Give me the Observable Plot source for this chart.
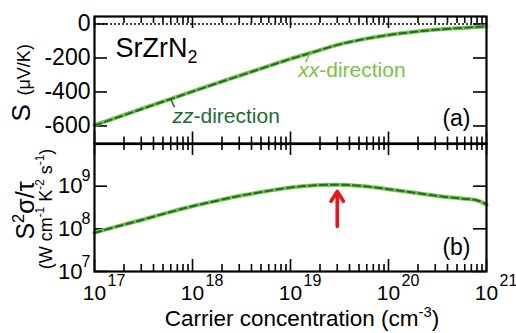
<!DOCTYPE html>
<html><head><meta charset="utf-8">
<script src="https://cdn.jsdelivr.net/npm/d3@7"></script>
<script src="https://cdn.jsdelivr.net/npm/@observablehq/plot@0.6"></script>
<style>
body{margin:0;background:#fff;}
#chart{position:relative;width:516px;height:333px;overflow:hidden;background:#fff;}
#chart svg{position:absolute;left:0;top:0;}
</style></head><body><div id="chart"></div>
<script>
// ---- data ----
const carrier = [1e17, 1.78e17, 3.16e17, 5.62e17, 1e18, 1.78e18, 3.16e18, 5.62e18, 1e19, 1.78e19, 3.16e19, 5.62e19, 1e20, 1.78e20, 3.16e20, 5.62e20, 7.94e20, 1e21];
const seebeckXX = [-595, -545, -495, -446, -397, -348, -300, -252, -205, -163, -120, -89, -65, -47, -33, -23, -18, -15];
const seebeckZZ = [-597, -547, -497, -447, -398, -349, -301, -253, -206, -163, -120, -89, -65, -47, -33, -23, -18, -14];
const pfXX = [8.13e7, 1.175e8, 1.66e8, 2.40e8, 3.39e8, 4.57e8, 6.03e8, 7.59e8, 9.33e8, 1.047e9, 1.084e9, 1.0e9, 8.51e8, 7.08e8, 5.89e8, 5.13e8, 4.68e8, 3.63e8];
const pfZZ = [8.0e7, 1.17e8, 1.66e8, 2.40e8, 3.39e8, 4.57e8, 6.03e8, 7.59e8, 9.33e8, 1.045e9, 1.08e9, 1.0e9, 8.5e8, 7.1e8, 5.9e8, 5.1e8, 4.7e8, 3.8e8];

const xMajor = [1e17, 1e18, 1e19, 1e20, 1e21];
const xExponents = ["17", "18", "19", "20", "21"];
const minorMantissas = [2, 3, 4, 5, 6, 7, 8, 9];
const yTicksA = [0, -200, -400, -600];
const yLabelsA = ["0", "-200", "-400", "-600"];
const yTicksB = [1e7, 1e8, 1e9];
const yExponentsB = ["7", "8", "9"];

// annotations
const zzLabel = {x: 6.25e17, y: -585, text: "*{zz}-direction"};
const zzLeader = {x1: 5.97e17, y1: -440, x2: 6.55e17, y2: -489};
const xxLabel = {x: 1.2e19, y: -309, text: "*{xx}-direction"};
const xxLeader = {x1: 1.57e19, y1: -172, x2: 1.43e19, y2: -225};
const peakArrow = {x: 3.0e19, y1: 1.13e8, y2: 7.55e8};

// ---- layout ----
const W = 516, H = 333, L = 94, R = 486;
const A_top = 16, A_bot = 143.5, B_top = 143, B_bot = 271;
const hA = A_bot - A_top, hB = B_bot - B_top, fw = R - L;
const fontFamily = '"Liberation Sans", Arial, Helvetica, sans-serif';
const light = "#7cc244", dark = "#1d6b35", red = "#e8141e";

const xMinor = xMajor.slice(0, -1).flatMap(p => minorMantissas.map(m => m * p));
const rowsS = carrier.map((n, i) => ({n, xx: seebeckXX[i], zz: seebeckZZ[i]}));
const rowsP = carrier.map((n, i) => ({n, xx: pfXX[i], zz: pfZZ[i]}));

function xTickMarks(h) {
  const st = {stroke: "black", strokeWidth: 1.6};
  return [
    Plot.tickX(xMinor, {...st, insetBottom: h - 7}),
    Plot.tickX(xMajor, {...st, insetBottom: h - 12}),
    Plot.tickX(xMinor, {...st, insetTop: h - 7}),
    Plot.tickX(xMajor, {...st, insetTop: h - 12})
  ];
}
function yTickMarks(ticks) {
  const st = {stroke: "black", strokeWidth: 1.6};
  return [
    Plot.tickY(ticks, {...st, insetRight: fw - 13}),
    Plot.tickY(ticks, {...st, insetLeft: fw - 13})
  ];
}
const style = {fontFamily, background: "transparent", overflow: "visible", color: "black"};

const plotA = Plot.plot({
  width: W, height: H,
  marginLeft: L, marginRight: W - R, marginTop: A_top, marginBottom: H - A_bot,
  x: {type: "log", domain: [1e17, 1e21], axis: null},
  y: {domain: [-706, 44], axis: null},
  style,
  marks: [
    Plot.ruleY([0], {stroke: "black", strokeWidth: 1.4, strokeDasharray: "2,2"}),
    ...xTickMarks(hA),
    ...yTickMarks(yTicksA),
    Plot.line(rowsS, {x: "n", y: "xx", stroke: light, strokeWidth: 4, curve: "catmull-rom"}),
    Plot.line(rowsS, {x: "n", y: "zz", stroke: dark, strokeWidth: 2, strokeDasharray: "7,4", curve: "catmull-rom"}),
    Plot.link([zzLeader], {x1: "x1", y1: "y1", x2: "x2", y2: "y2", stroke: dark, strokeWidth: 1.6}),
    Plot.link([xxLeader], {x1: "x1", y1: "y1", x2: "x2", y2: "y2", stroke: light, strokeWidth: 1.6}),
    Plot.text([zzLabel], {x: "x", y: "y", text: "text", fill: dark, fontSize: 21, textAnchor: "start", lineAnchor: "bottom"}),
    Plot.text([xxLabel], {x: "x", y: "y", text: "text", fill: light, fontSize: 21, textAnchor: "start", lineAnchor: "bottom"}),
    Plot.text(["SrZrN_{2}"], {frameAnchor: "top-left", dx: 21, dy: 40.7, fontSize: 27, textAnchor: "start", lineAnchor: "bottom"}),
    Plot.text(["(a)"], {frameAnchor: "bottom-right", dx: -16, dy: -18, fontSize: 23, textAnchor: "end", lineAnchor: "bottom"}),
    Plot.text(yTicksA, {y: d => d, text: (d, i) => yLabelsA[i], frameAnchor: "left", dx: -4, fontSize: 23, textAnchor: "end"}),
    Plot.text(["S"], {frameAnchor: "left", rotate: -90, dx: -65, dy: 41.25, fontSize: 26, textAnchor: "start", lineAnchor: "bottom"}),
    Plot.text(["(μV/K)"], {frameAnchor: "left", rotate: -90, dx: -65, dy: 15.25, fontSize: 18, textAnchor: "start", lineAnchor: "bottom"}),
    Plot.frame({stroke: "black", strokeWidth: 2.2})
  ]
});

const plotB = Plot.plot({
  width: W, height: H,
  marginLeft: L, marginRight: W - R, marginTop: B_top, marginBottom: H - B_bot,
  x: {type: "log", domain: [1e17, 1e21], axis: null},
  y: {type: "log", domain: [1e7, 1e10], axis: null},
  style,
  marks: [
    ...xTickMarks(hB),
    ...yTickMarks(yTicksB),
    Plot.line(rowsP, {x: "n", y: "xx", stroke: light, strokeWidth: 4, curve: "catmull-rom"}),
    Plot.line(rowsP, {x: "n", y: "zz", stroke: dark, strokeWidth: 2, strokeDasharray: "7,4", curve: "catmull-rom"}),
    Plot.arrow([peakArrow], {x1: "x", x2: "x", y1: "y1", y2: "y2", stroke: red, strokeWidth: 3.6, headLength: 10, headAngle: 64}),
    Plot.text(["(b)"], {frameAnchor: "bottom-right", dx: -16, dy: -17, fontSize: 23, textAnchor: "end", lineAnchor: "bottom"}),
    Plot.text(yTicksB, {y: d => d, text: () => "10", frameAnchor: "left", dx: -12, fontSize: 22, textAnchor: "end"}),
    Plot.text(yTicksB, {y: d => d, text: (d, i) => yExponentsB[i], frameAnchor: "left", dx: -4, dy: -5, fontSize: 16, textAnchor: "end", lineAnchor: "bottom"}),
    Plot.text(xMajor, {x: d => d, text: () => "10", frameAnchor: "bottom", dy: 28.5, fontSize: 21, textAnchor: "middle", lineAnchor: "bottom"}),
    Plot.text(xMajor, {x: d => d, text: (d, i) => xExponents[i], frameAnchor: "bottom", dx: 13, dy: 14.5, fontSize: 16, textAnchor: "start", lineAnchor: "bottom"}),
    Plot.text(["Carrier concentration (cm^{-3})"], {frameAnchor: "bottom", dx: 11.5, dy: 54, fontSize: 22.5, textAnchor: "middle", lineAnchor: "bottom"}),
    Plot.text(["S^{2}σ/τ"], {frameAnchor: "left", rotate: -90, dx: -61, dy: 3, fontSize: 25, textAnchor: "middle", lineAnchor: "bottom"}),
    Plot.text(["(W cm^{-1} K^{-2} s^{-1})"], {frameAnchor: "left", rotate: -90, dx: -43, dy: 1.5, fontSize: 18, textAnchor: "middle", lineAnchor: "bottom"}),
    Plot.frame({stroke: "black", strokeWidth: 2.2})
  ]
});

const chart = document.getElementById("chart");
chart.appendChild(plotB);
chart.appendChild(plotA);

// turn ^{..} (superscript), _{..} (subscript), *{..} (italic) into tspans
const NS = "http://www.w3.org/2000/svg";
function richText(svg) {
  svg.querySelectorAll("text").forEach(t => {
    const s = t.textContent;
    if (!/[\^_*]\{/.test(s)) return;
    const fs = parseFloat(getComputedStyle(t).fontSize) || 16;
    const re = /([\^_*])\{([^}]*)\}/g;
    let last = 0, cur = 0, m;
    t.textContent = "";
    const add = (txt, kind) => {
      if (!txt) return;
      const ts = document.createElementNS(NS, "tspan");
      let d = 0;
      if (kind === "^") { d = -0.4 * fs; ts.setAttribute("font-size", (0.66 * fs).toFixed(2)); }
      if (kind === "_") { d = 0.2 * fs; ts.setAttribute("font-size", (0.66 * fs).toFixed(2)); }
      if (kind === "*") ts.setAttribute("font-style", "italic");
      if (d !== cur) ts.setAttribute("dy", (d - cur).toFixed(2));
      cur = d;
      ts.textContent = txt;
      t.appendChild(ts);
    };
    while ((m = re.exec(s))) {
      add(s.slice(last, m.index), "");
      add(m[2], m[1]);
      last = re.lastIndex;
    }
    add(s.slice(last), "");
  });
}
richText(plotA);
richText(plotB);
</script></body></html>
